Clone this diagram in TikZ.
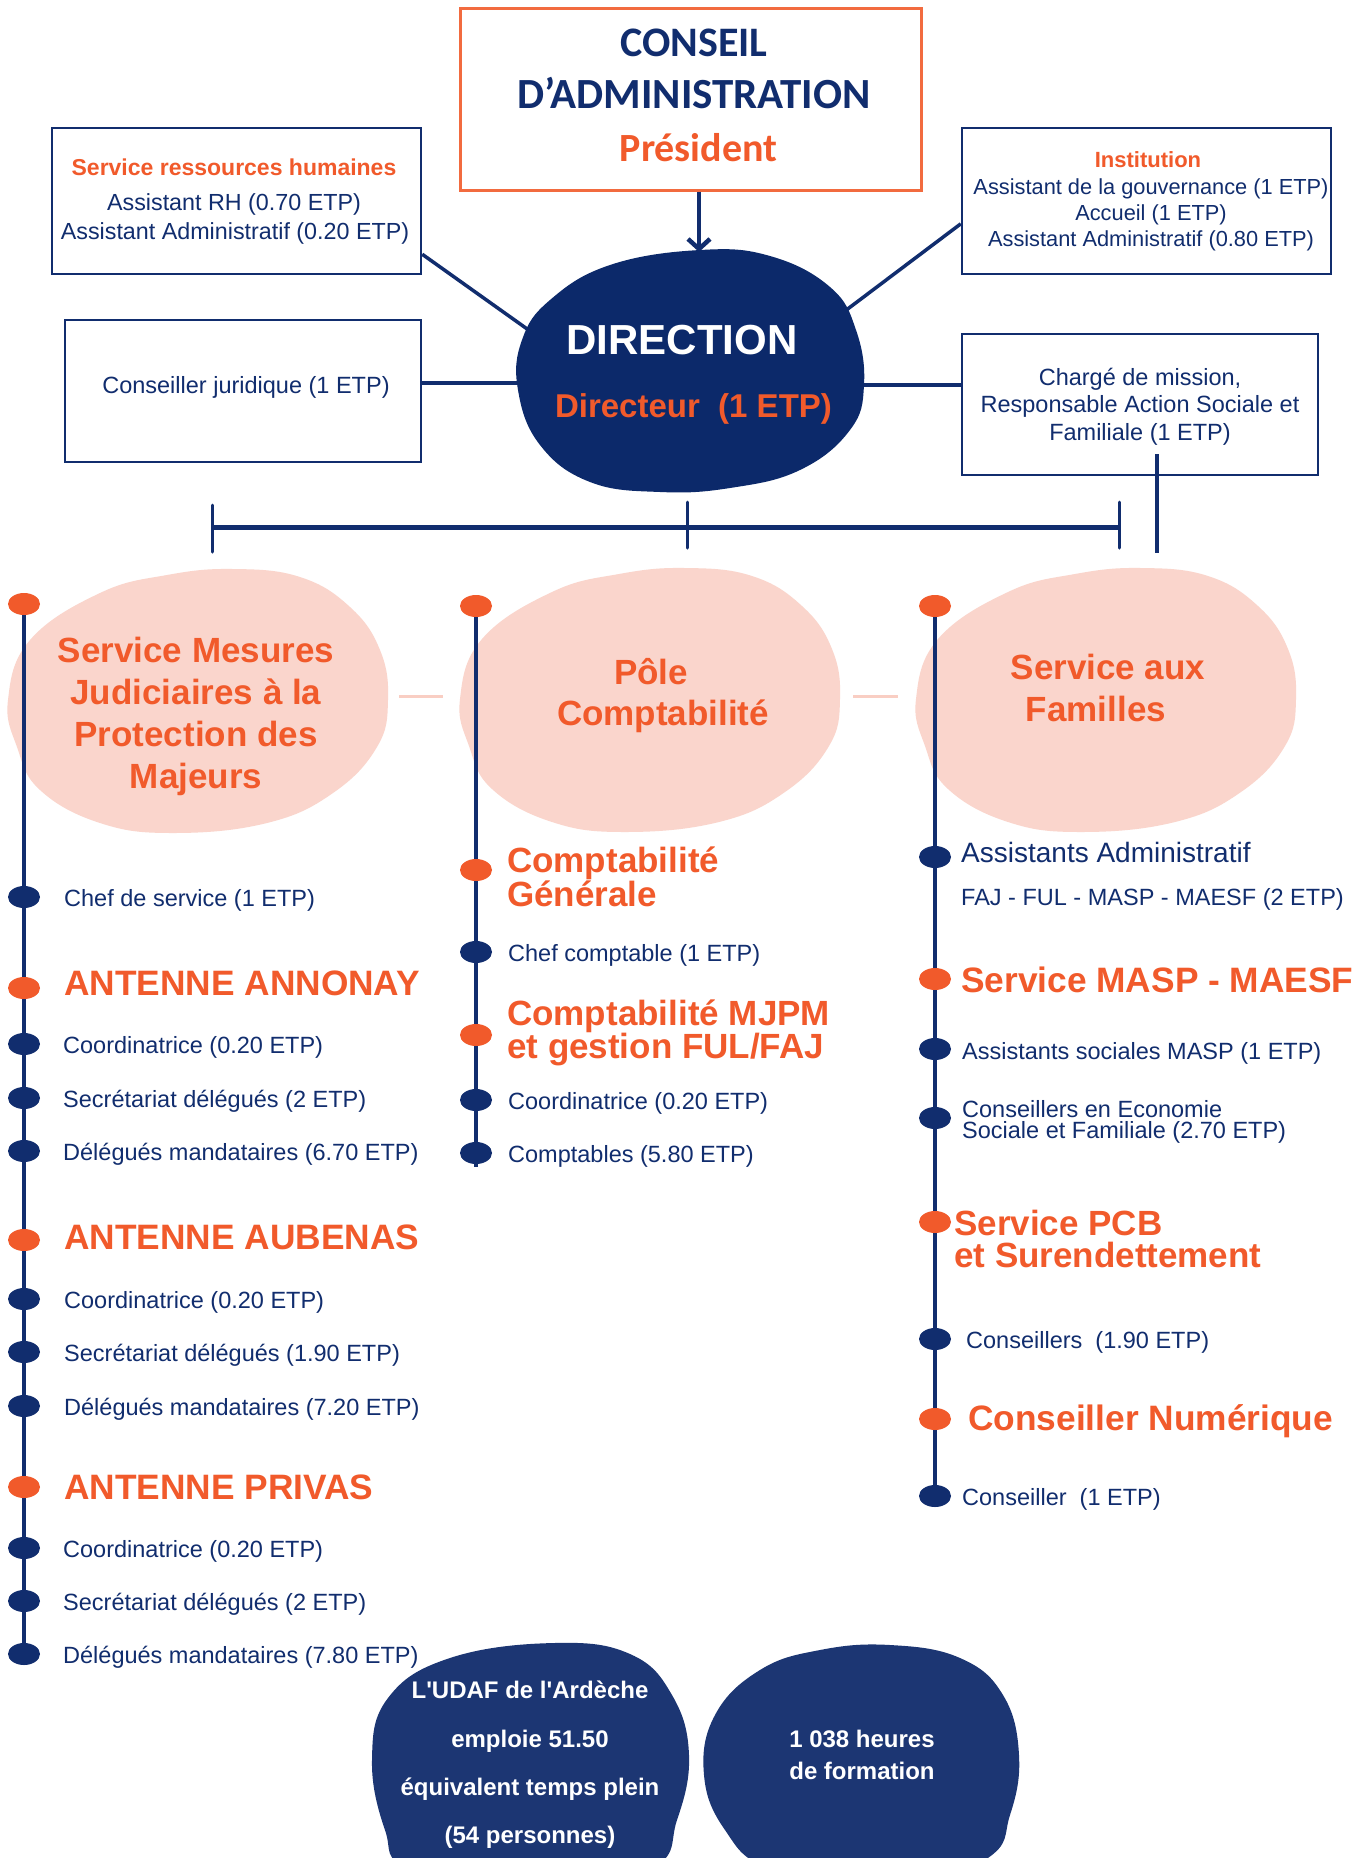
\documentclass[tikz,border=0pt]{standalone}
\usepackage{fontspec}
\setmainfont{Liberation Sans}
\newfontfamily\calib{Carlito}
\usetikzlibrary{arrows.meta,shapes.geometric}
\definecolor{navy}{HTML}{112D6E}
\definecolor{dirblue}{HTML}{0C296A}
\definecolor{botblue}{HTML}{1C3673}
\definecolor{orng}{HTML}{F15A2B}
\definecolor{cborder}{HTML}{F26B3F}
\definecolor{pinkb}{HTML}{FAD5CC}
\definecolor{pinkd}{HTML}{F9CEC3}
\newcommand\pinkblobpath{plot[smooth cycle, tension=0.7] coordinates {(233,569) (300,577) (350,607) (380,650) (388,700) (377,747) (333,793) (267,823) (173,833) (100,823) (40,790) (17,747) (8,700) (30,640) (100,593) (167,575)}}
\begin{document}
\begin{tikzpicture}[x=1pt,y=-1pt,
  txt/.style={inner sep=0pt, text=navy, yshift=-3.5pt, font=\fontsize{23.5}{28}\selectfont},
  txtb/.style={inner sep=0pt, text=navy, yshift=-2.5pt, font=\fontsize{21.8}{26}\selectfont},
  item/.style={txt, anchor=west},
  head/.style={inner sep=0pt, anchor=west, text=orng, align=left, font=\bfseries\fontsize{35.3}{31}\selectfont},
  dotn/.style={ellipse, fill=navy, minimum width=32pt, minimum height=22pt, inner sep=0pt},
  doto/.style={dotn, fill=orng},
  boxn/.style={draw=navy, line width=2.5pt, inner sep=0pt},
  conn/.style={draw=navy, line width=3.5pt},
  tline/.style={draw=navy, line width=4pt},
  blobtxt/.style={inner sep=0pt, text=orng, align=center, font=\bfseries\fontsize{35}{42}\selectfont},
  bottxt/.style={inner sep=0pt, text=white, align=center, font=\bfseries\fontsize{24}{48.3}\selectfont},
]
\useasboundingbox (0,0) rectangle (1363,1858);
\fill[white] (0,0) rectangle (1363,1858);

% ---- top boxes
\node[draw=cborder, line width=3pt, minimum width=461pt, minimum height=182pt, inner sep=0pt] (conseil) at (690.5,99) {};
\node[boxn, minimum width=369pt, minimum height=146pt] (hr) at (236.5,201) {};
\node[boxn, minimum width=356pt, minimum height=142pt] (jur) at (243,391) {};
\node[boxn, minimum width=369pt, minimum height=146pt] (inst) at (1146.5,201) {};
\node[boxn, minimum width=356pt, minimum height=141pt] (charge) at (1140,404.5) {};

% ---- connectors to direction
\coordinate (dHR) at (530,331);
\coordinate (dJ) at (525,383);
\coordinate (dNE) at (845,311);
\coordinate (dE) at (856,385);
\coordinate (dTop) at (699,252);
\coordinate (stemTop) at (1157,454);
\coordinate (stemBot) at (1157,553);
\draw[conn] (hr.-16.3) -- (dHR);
\draw[conn] (jur.east |- dJ) -- (dJ);
\draw[conn] (inst.187.7) -- (dNE);
\draw[conn] (charge.west |- dE) -- (dE);
\draw[conn] (stemTop) -- (stemBot);
\draw[navy, line width=4.5pt, -{Straight Barb[length=10pt,width=22pt]}] (conseil.south -| dTop) -- (dTop);

% ---- direction blob
\fill[dirblue] plot[smooth cycle, tension=0.7] coordinates {(700,250) (770,256) (830,287) (856,330) (864,385) (850,430) (800,470) (730,488) (660,492) (590,482) (540,445) (518,390) (522,340) (550,300) (610,265)};
\node[inner sep=0pt, text=white, font=\bfseries\fontsize{42}{42}\selectfont] (dirT) at (682,340) {DIRECTION};
\node[inner sep=0pt, text=orng, font=\bfseries\fontsize{33}{33}\selectfont] (dirS) at (693.5,409) {Directeur\ \ (1 ETP)};

% ---- top texts
\node[inner sep=0pt, text=navy, font=\calib\bfseries\fontsize{42}{42}\selectfont] (c1) at (694,43) {CONSEIL};
\node[inner sep=0pt, text=navy, font=\calib\bfseries\fontsize{43}{43}\selectfont] (c2) at (694,93) {D’ADMINISTRATION};
\node[inner sep=0pt, text=orng, font=\calib\bfseries\fontsize{40}{40}\selectfont] (c3) at (698.5,148) {Président};

\node[inner sep=0pt, text=orng, font=\bfseries\fontsize{23}{23}\selectfont] (hr1) at (234,167) {Service ressources humaines};
\node[txt, font=\fontsize{23.3}{28}\selectfont] (hr2) at (234,201) {Assistant RH (0.70 ETP)};
\node[txt, font=\fontsize{23.3}{28}\selectfont] (hr3) at (235,230) {Assistant Administratif (0.20 ETP)};
\node[txt] (jur1) at (246,384) {Conseiller juridique (1 ETP)};

\node[inner sep=0pt, text=orng, font=\bfseries\fontsize{22}{22}\selectfont] (in1) at (1148,160) {Institution};
\node[txtb] (in2) at (1151,186) {Assistant de la gouvernance (1 ETP)};
\node[txtb] (in3) at (1151,212) {Accueil (1 ETP)};
\node[txtb] (in4) at (1151,238) {Assistant Administratif (0.80 ETP)};

\node[txt, yshift=1.5pt] (ch1) at (1140,377) {Chargé de mission,};
\node[txt, yshift=1.5pt] (ch2) at (1140,404) {Responsable Action Sociale et};
\node[txt, yshift=1.5pt] (ch3) at (1140,432) {Familiale (1 ETP)};

% ---- bracket
\coordinate (bL) at (212,527);
\coordinate (bM) at (687,527);
\coordinate (bR) at (1119,527);
\draw[navy, line width=5pt] (bL) -- (bR);
\draw[navy, line width=3pt, line cap=round] (bL) ++(0,-22) -- ++(0,47);
\draw[navy, line width=3pt, line cap=round] (bM) ++(0,-25) -- ++(0,46);
\draw[navy, line width=3pt, line cap=round] (bR) ++(0,-25) -- ++(0,46);

% ---- pink blobs
\fill[pinkb] \pinkblobpath;
\begin{scope}[shift={(452,-1)}]
\fill[pinkb] \pinkblobpath;
\end{scope}
\begin{scope}[shift={(908,-1)}]
\fill[pinkb] \pinkblobpath;
\end{scope}
\coordinate (pd1a) at (399,696);
\coordinate (pd1b) at (443,696);
\coordinate (pd2a) at (853,696);
\coordinate (pd2b) at (898,696);
\draw[pinkd, line width=3pt] (pd1a) -- (pd1b);
\draw[pinkd, line width=3pt] (pd2a) -- (pd2b);

% ---- timelines
\coordinate (Ltop) at (24,604);
\coordinate (Lbot) at (24,1665);
\coordinate (Mtop) at (476,606);
\coordinate (Mbot) at (476,1167);
\coordinate (Rtop) at (935,606);
\coordinate (Rbot) at (935,1496);
\draw[tline] (Ltop) -- (Lbot);
\draw[tline] (Mtop) -- (Mbot);
\draw[tline] (Rtop) -- (Rbot);

% blob headings
\node[blobtxt] (b1) at (196,716) {Service Mesures\\Judiciaires à la\\Protection des\\Majeurs};
\node[blobtxt] (b2a) at (651,672) {Pôle};
\node[blobtxt] (b2b) at (663,716.5) {Comptabilité};
\node[blobtxt] (b3a) at (1108,667) {Service aux};
\node[blobtxt] (b3b) at (1096,709) {Familles};

% left column
\node[doto] (L0) at (24,604) {};
\node[dotn] (L1) at (24,897) {};
\node[item] (tL1) at (64,897) {Chef de service (1 ETP)};
\node[doto] (L2) at (24,988) {};
\node[head] (tL2) at (64,983) {ANTENNE ANNONAY};
\node[dotn] (L3) at (24,1044) {};
\node[item] (tL3) at (63,1044) {Coordinatrice (0.20 ETP)};
\node[dotn] (L4) at (24,1098) {};
\node[item] (tL4) at (63,1098) {Secrétariat délégués (2 ETP)};
\node[dotn] (L5) at (24,1151) {};
\node[item] (tL5) at (63,1151) {Délégués mandataires (6.70 ETP)};
\node[doto] (L6) at (24,1240) {};
\node[head] (tL6) at (64,1237) {ANTENNE AUBENAS};
\node[dotn] (L7) at (24,1299) {};
\node[item] (tL7) at (64,1299) {Coordinatrice (0.20 ETP)};
\node[dotn] (L8) at (24,1352) {};
\node[item] (tL8) at (64,1352) {Secrétariat délégués (1.90 ETP)};
\node[dotn] (L9) at (24,1406) {};
\node[item] (tL9) at (64,1406) {Délégués mandataires (7.20 ETP)};
\node[doto] (L10) at (24,1487) {};
\node[head] (tL10) at (64,1487) {ANTENNE PRIVAS};
\node[dotn] (L11) at (24,1548) {};
\node[item] (tL11) at (63,1548) {Coordinatrice (0.20 ETP)};
\node[dotn] (L12) at (24,1601) {};
\node[item] (tL12) at (63,1601) {Secrétariat délégués (2 ETP)};
\node[dotn] (L13) at (24,1654) {};
\node[item] (tL13) at (63,1654) {Délégués mandataires (7.80 ETP)};

% middle column
\node[doto] (M0) at (476,606) {};
\node[doto] (M1) at (476,870) {};
\node[head, font=\bfseries\fontsize{35}{30}\selectfont] (tM1) at (507,877) {Comptabilité\\Générale};
\node[dotn] (M2) at (476,952) {};
\node[item] (tM2) at (508,952) {Chef comptable (1 ETP)};
\node[doto] (M3) at (476,1035) {};
\node[head, font=\bfseries\fontsize{35}{32}\selectfont] (tM3) at (507,1033) {Comptabilité MJPM\\et gestion FUL/FAJ};
\node[dotn] (M4) at (476,1100) {};
\node[item] (tM4) at (508,1100) {Coordinatrice (0.20 ETP)};
\node[dotn] (M5) at (476,1153) {};
\node[item] (tM5) at (508,1153) {Comptables (5.80 ETP)};

% right column
\node[doto] (R0) at (935,606) {};
\node[dotn] (R1) at (935,857) {};
\node[item, yshift=3.5pt, font=\fontsize{28}{28}\selectfont] (tR1) at (961,852) {Assistants Administratif};
\node[item] (tR1b) at (961,896) {FAJ - FUL - MASP - MAESF (2 ETP)};
\node[doto] (R2) at (935,979) {};
\node[head] (tR2) at (961,980) {Service MASP - MAESF};
\node[dotn] (R3) at (935,1049) {};
\node[item] (tR3) at (962,1050) {Assistants sociales MASP (1 ETP)};
\node[dotn] (R4) at (935,1118) {};
\node[item, align=left, font=\fontsize{23.5}{21}\selectfont] (tR4) at (962,1118.5) {Conseillers en Economie\\Sociale et Familiale (2.70 ETP)};
\node[doto] (R5) at (935,1222) {};
\node[head, font=\bfseries\fontsize{35}{32}\selectfont] (tR5) at (954,1239) {Service PCB\\et Surendettement};
\node[dotn] (R6) at (935,1339) {};
\node[item] (tR6) at (966,1339) {Conseillers\ \ (1.90 ETP)};
\node[doto] (R7) at (935,1419) {};
\node[head] (tR7) at (968,1421) {Conseiller Numérique};
\node[dotn] (R8) at (935,1496) {};
\node[item] (tR8) at (962,1496) {Conseiller\ \ (1 ETP)};

% ---- bottom blobs
\begin{scope}
\clip (0,0) rectangle (1363,1858);
\fill[botblue] plot[smooth cycle, tension=0.7] coordinates {(554,1643) (630,1654) (672,1695) (689,1755) (677,1820) (650,1870) (530,1900) (410,1870) (385,1830) (372,1760) (388,1698) (450,1658)};
\fill[botblue] plot[smooth cycle, tension=0.7] coordinates {(890,1645) (960,1658) (1003,1695) (1019,1755) (1010,1815) (985,1860) (880,1900) (770,1870) (725,1830) (704,1775) (715,1715) (760,1670) (820,1650)};
\end{scope}
\node[bottxt] (u1) at (530,1765) {L\textquotesingle UDAF de l\textquotesingle Ardèche\\emploie 51.50\\équivalent temps plein\\(54 personnes)};
\node[bottxt, font=\bfseries\fontsize{24}{32}\selectfont] (u2) at (862,1755) {1 038 heures\\de formation};
\end{tikzpicture}
\end{document}
